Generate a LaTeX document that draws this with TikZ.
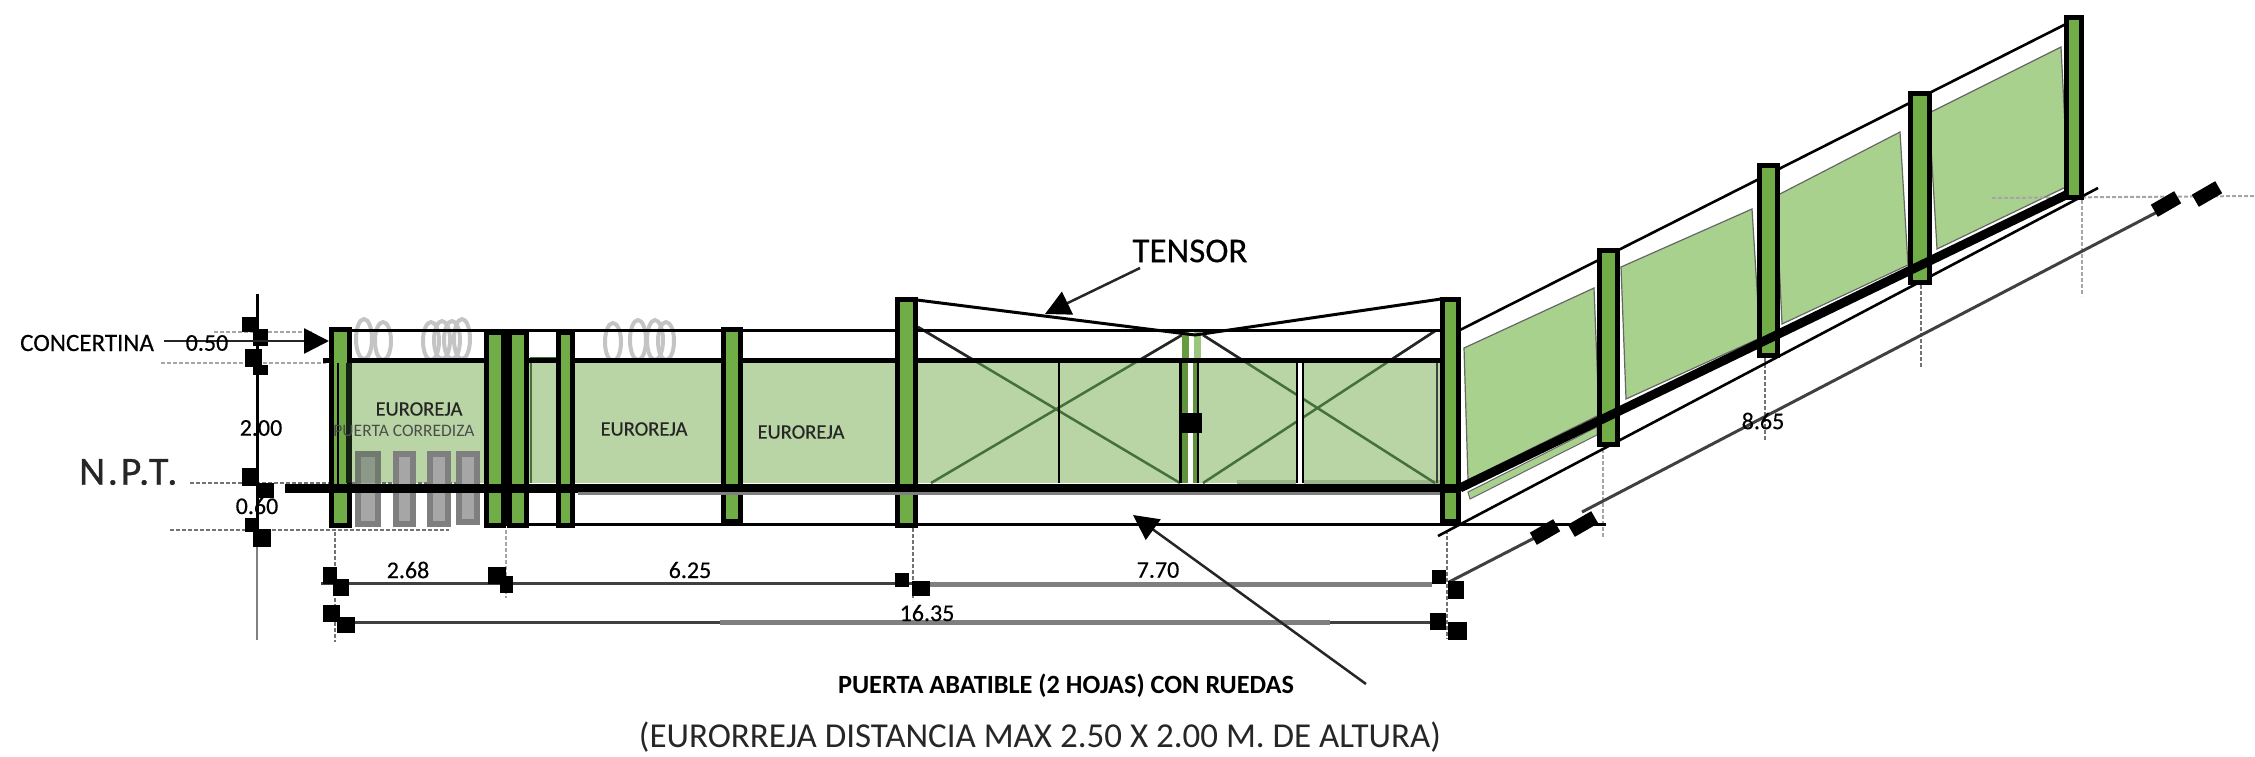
\documentclass[tikz,border=0pt]{standalone}
\usepackage{fontspec}
\setmainfont{Carlito}
\newfontfamily\fbs[FakeBold=0.3]{Carlito}
\newfontfamily\nptfont[FakeBold=0.8,LetterSpace=7]{Carlito}
\usetikzlibrary{arrows.meta}
\definecolor{panelA}{HTML}{B9D5A5}
\definecolor{panelB}{HTML}{A9D18E}
\definecolor{postG}{HTML}{70AD47}
\definecolor{crossG}{HTML}{44703A}
\definecolor{grayF}{HTML}{A6A6A6}
\definecolor{grayE}{HTML}{7F7F7F}
\definecolor{coil}{HTML}{C4C4C4}
\tikzset{
  x=1pt,y=-1pt,
  fencepost/.style={draw=black,fill=postG,line width=5pt},
  railthin/.style={draw=black,line width=3pt},
  railskew/.style={draw=black,line width=2.6pt},
  railmid/.style={draw=black,line width=5pt},
  railfat/.style={draw=black,line width=9pt},
  panelflat/.style={fill=panelA,draw=none},
  panelskew/.style={fill=panelB,draw=black!60,line width=1.2pt},
  crossline/.style={draw=crossG,line width=2.5pt},
  crossblack/.style={draw=black!85,line width=2.5pt},
  coilring/.style={draw=coil,line width=4pt},
  wheel/.style={draw=grayE,fill=grayF,line width=6pt},
  ext/.style={draw=black!55,line width=1.3pt,dash pattern=on 4pt off 2pt},
  extlight/.style={draw=black!35,line width=2pt,dash pattern=on 4pt off 2pt},
  dimline/.style={draw=black!75,line width=3pt},
  dimgray/.style={draw=grayE,line width=5pt},
  blk/.style={fill=black,draw=none},
  leader/.style={draw=black!85,line width=2.5pt,-{Triangle[length=25pt,width=25pt,fill=black,color=black]}},
  lblS/.style={inner sep=0pt,font=\fbs\fontsize{25}{27}\selectfont,text=black},
  lblD/.style={inner sep=0pt,font=\fbs\fontsize{24}{26}\selectfont,text=black},
  lblE/.style={inner sep=0pt,font=\fbs\fontsize{20.5}{22}\selectfont,text=black!85},
  lblP/.style={inner sep=0pt,font=\fontsize{17.5}{20}\selectfont,text=black!70},
  lblT/.style={inner sep=0pt,font=\fbs\fontsize{35}{38}\selectfont,text=black},
  lblN/.style={inner sep=0pt,font=\nptfont\fontsize{40}{44}\selectfont,text=black!85},
  lblA/.style={inner sep=0pt,font=\bfseries\fontsize{26.3}{28}\selectfont,text=black},
  lblC/.style={inner sep=0pt,font=\fontsize{35}{38}\selectfont,text=black!85},
}
\newcommand{\blksq}[4]{\fill[blk] (#1,#3) rectangle (#2,#4);}
\newcommand{\tick}[2]{\fill[blk,shift={(#1,#2)},rotate=30] (-13.5,-7) rectangle (13.5,7);}
\begin{document}
\begin{tikzpicture}
\useasboundingbox (0,0) rectangle (2255,756);
% named anchors
\coordinate (tenA) at (917,300);
\coordinate (tenB) at (1195,335);
\coordinate (tenC) at (1441,299);
\coordinate (topL) at (1460,330);
\coordinate (topR) at (2066,24);
\coordinate (gndL) at (1460,488);
\coordinate (gndR) at (2068,194);
\coordinate (lowL) at (1438,536);
\coordinate (lowR) at (2098,188);
\coordinate (dimL) at (1449,582);
\coordinate (dimR) at (2163,209);
% flat panels
\fill[panelflat] (352,363) rectangle (484,483);
\fill[panelflat] (529,358) rectangle (556,483);
\fill[panelflat] (575,363) rectangle (721,483);
\fill[panelflat] (743,363) rectangle (895,483);
\fill[panelflat] (918,363) rectangle (1181,483);
\fill[panelflat] (1199,363) rectangle (1296,483);
\fill[panelflat] (1303,363) rectangle (1440,483);
\fill[fill=panelA!85!black] (1237,480) rectangle (1296,484);
\fill[fill=panelA!85!black] (1304,480) rectangle (1440,484);
\draw[draw=crossG,line width=2pt] (531,483) -- (531,358) -- (556,358);
% crosses
\draw[crossline] (918,327) -- (1180,483);
\draw[crossline] (931,483) -- (1182,335);
\draw[crossline] (1203,335) -- (1435,483);
\draw[crossline] (1203,483) -- (1435,331);
\begin{scope}
\clip (918,320) rectangle (1440,360);
\draw[crossblack] (918,327) -- (1180,483);
\draw[crossblack] (931,483) -- (1182,335);
\draw[crossblack] (1203,335) -- (1435,483);
\draw[crossblack] (1203,483) -- (1435,331);
\end{scope}
% gate stiles
\draw[draw=black,line width=2.5pt] (1059,361) -- (1059,483);
\fill[white] (1297,361) rectangle (1303,483);
\draw[draw=black,line width=2.2pt] (1297,361) -- (1297,483);
\draw[draw=black,line width=2.2pt] (1303,361) -- (1303,483);
% skew panels
\fill[panelskew] (1464,348) -- (1594,288) -- (1599,415) -- (1468,480) -- cycle;
\fill[panelskew] (1621,267) -- (1752,209) -- (1760,338) -- (1626,399) -- cycle;
\fill[panelskew] (1776,196) -- (1900,132) -- (1908,265) -- (1782,324) -- cycle;
\fill[panelskew] (1929,113) -- (2061,47) -- (2068,186) -- (1937,249) -- cycle;
\fill[fill=panelB,draw=black!60,line width=1pt] (1468,492) -- (1597,427) -- (1597,435) -- (1470,499) -- cycle;
% dashed extension lines
\draw[extlight] (214,332) -- (312,332);
\draw[extlight] (161,363) -- (326,363);
\draw[ext] (190,483) -- (473,483);
\draw[ext] (170,530) -- (449,530);
\draw[ext] (335,532) -- (335,642);
\draw[extlight] (506,530) -- (506,598);
\draw[ext] (913,528) -- (913,600);
\draw[ext] (1447,530) -- (1447,639);
\draw[extlight] (1603,449) -- (1603,537);
\draw[ext] (1765,358) -- (1765,441);
\draw[ext] (1921,285) -- (1921,368);
\draw[extlight] (2082,200) -- (2082,296);
\draw[extlight] (1992,198) -- (2255,196);
% wheels
\draw[wheel] (358,454) rectangle (378,524);
\draw[wheel] (396,454) rectangle (413,524);
\draw[wheel] (430,454) rectangle (448,524);
\draw[wheel] (459,454) rectangle (477,522);
\fill[fill=crossG,opacity=0.25] (355,451) rectangle (381,483);
% concertina coils
\foreach \cx/\cy/\ry in {364/339/20,383/341/19,431/341/19,442/340/19,452/340/19,462/339/20,613/342/19,638/340/20,655/340/20,666/341/19}
  \draw[coilring] (\cx,\cy) ellipse (8 and \ry);
% rails
\draw[railthin] (332,330.5) -- (1460,330.5);
\draw[railmid] (323,360.5) -- (1458,360.5);
\draw[railthin] (484,524) -- (1606,524);
\fill[white] (529,332) rectangle (556,356);
\draw[railskew] (topL) -- (topR);
\draw[railskew] (lowL) -- (lowR);
% first post with its double inner bar
\draw[fencepost] (331.5,329.5) rectangle (349.5,525.5);
\fill[fill=black!70!crossG] (346,363) rectangle (352,483);
\fill[black] (329,358) rectangle (334,528);
\draw[draw=black,line width=2.5pt] (338,363) -- (338,484);
% posts
\draw[fencepost] (486,332.5) rectangle (503,525.5);
\draw[fencepost] (509,332.5) rectangle (526,525.5);
\draw[draw=black,line width=3pt] (506,332) -- (506,526);
\draw[fencepost] (558.5,332.5) rectangle (572.5,525.5);
\draw[fencepost] (723.5,329.5) rectangle (740.5,521.5);
\draw[fencepost] (897.5,299.5) rectangle (915.5,525.5);
\draw[fencepost] (1442.5,299.5) rectangle (1458.5,521.5);
\draw[draw=black!75,line width=2pt] (1437,363) -- (1437,483);
\draw[fencepost] (1599.5,250.5) rectangle (1617.5,444.5);
\draw[fencepost] (1759.5,165.5) rectangle (1777.5,355.5);
\draw[fencepost] (1910.5,93.5) rectangle (1929.5,282.5);
\draw[fencepost] (2066.5,17.5) rectangle (2081.5,197.5);
% centre stile
\fill[postG!90!black] (1182,332) rectangle (1189,358);
\fill[postG!70!white] (1194,332) rectangle (1201,358);
\fill[black] (1179,363) rectangle (1182,483);
\fill[postG!85!black] (1182,363) rectangle (1188,483);
\fill[white] (1188,363) rectangle (1193,483);
\fill[postG!85!black] (1193,363) rectangle (1197,483);
\fill[black] (1197,363) rectangle (1199,483);
\fill[blk] (1179,413) rectangle (1202,433);
% tensor
\draw[railthin] (tenA) -- (tenB) -- (tenC);
% ground rails
\draw[railfat] (285,488) -- (1461,488);
\draw[railfat] (gndL) -- (gndR);
\draw[draw=grayE,line width=3pt] (578,493.5) -- (1440,493.5);
% dimension lines
\draw[dimline] (321,583) -- (930,583);
\draw[dimgray] (930,584) -- (1432,584);
\draw[dimline] (353,622) -- (720,622);
\draw[dimgray] (720,622) -- (1330,622);
\draw[dimline] (1330,622) -- (1432,622);
\draw[dimline] (dimL) -- (1546,532);
\draw[dimline] (1582,512) -- (dimR);
\draw[draw=black,line width=3pt] (257,294) -- (257,547);
\draw[draw=black!50,line width=2.5pt] (257,547) -- (257,640);
% dimension terminators
\blksq{242}{259}{317}{332}\blksq{253}{268}{329}{346}
\blksq{245}{262}{349}{367}\blksq{253}{268}{365}{375}
\blksq{242}{259}{468}{486}\blksq{256}{274}{483}{498}
\blksq{245}{259}{518}{532}\blksq{253}{271}{529}{547}
\blksq{323}{337}{567}{584}\blksq{333}{349}{579}{596}
\blksq{488}{506}{567}{584}\blksq{500}{513}{576}{593}
\blksq{895}{909}{573}{587}\blksq{912}{930}{581}{596}
\blksq{1432}{1446}{570}{584}\blksq{1448}{1464}{581}{599}
\blksq{323}{340}{605}{622}\blksq{337}{355}{617}{633}
\blksq{1430}{1446}{613}{630}\blksq{1448}{1467}{622}{640}
\tick{1545}{532}\tick{1583}{524}\tick{2166}{204}\tick{2207}{194}
% labels
\node[lblS,anchor=west] (conc) at (20,343) {CONCERTINA};
\coordinate (concTip) at (329,341);
\draw[leader] (164,341) -- (concTip);
\node[lblD] (d050) at (207,343) {0.50};
\node[lblD] (d200) at (261,428) {2.00};
\node[lblD] (d060) at (257,506) {0.60};
\node[lblN,anchor=west] (npt) at (79,472) {N.P.T.};
\node[lblE] (e1) at (419,409) {EUROREJA};
\node[lblP] (pc) at (404,431) {PUERTA CORREDIZA};
\node[lblE] (e2) at (644,429) {EUROREJA};
\node[lblE] (e3) at (801,432) {EUROREJA};
\node[lblD] (d268) at (408,570) {2.68};
\node[lblD] (d625) at (690,570) {6.25};
\node[lblD] (d770) at (1158,570) {7.70};
\node[lblD] (d1635) at (927,613) {16.35};
\node[lblD] (d865) at (1763,421) {8.65};
\node[lblT] (tensor) at (1190,251) {TENSOR};
\coordinate (tenTip) at (1045,314);
\draw[leader] (1140,268) -- (tenTip);
\node[lblA] (puerta) at (1066,686) {PUERTA ABATIBLE (2 HOJAS) CON RUEDAS};
\coordinate (gateEnd) at (1366,684);
\coordinate (gateTip) at (1133,515);
\draw[leader] (gateEnd) -- (gateTip);
\node[lblC] (euro) at (1040,737) {(EURORREJA DISTANCIA MAX 2.50 X 2.00 M. DE ALTURA)};
\end{tikzpicture}
\end{document}
